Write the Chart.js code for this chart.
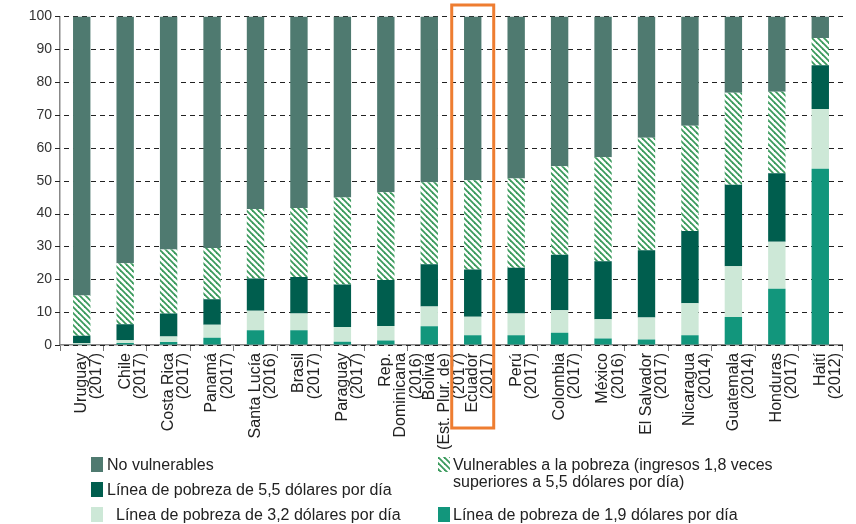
<!DOCTYPE html>
<html>
<head>
<meta charset="utf-8">
<script src="https://cdn.jsdelivr.net/npm/chart.js@4/dist/chart.umd.min.js"></script>
<style>
  body { margin: 0; background: #fff; font-family: "Liberation Sans", Arial, sans-serif; }
  #wrap { position: relative; width: 856px; height: 524px; }
  #legend { position: absolute; left: 0; top: 0; width: 856px; height: 524px; pointer-events: none; font-size: 16px; color: #222; }
  .item { position: absolute; line-height: 17px; }
  .sw { position: absolute; width: 12px; height: 15px; }
</style>
</head>
<body>
<div id="wrap">
  <canvas id="chart" width="856" height="524"></canvas>
  <div id="legend">
    <div class="sw" style="left:91px;top:457px;background:#4f7a70"></div>
    <div class="item" style="left:107px;top:456px">No vulnerables</div>
    <div class="sw" style="left:91px;top:482px;background:#005e4e"></div>
    <div class="item" style="left:107px;top:481px">Línea de pobreza de 5,5 dólares por día</div>
    <div class="sw" style="left:91px;top:507px;background:#cde8d7"></div>
    <div class="item" style="left:116px;top:506px">Línea de pobreza de 3,2 dólares por día</div>
    <canvas id="hatchIcon" class="sw" width="12" height="15" style="left:438px;top:457px"></canvas>
    <div class="item" style="left:453px;top:456px">Vulnerables a la pobreza (ingresos 1,8 veces<br>superiores a 5,5 dólares por día)</div>
    <div class="sw" style="left:438px;top:507px;background:#12967c"></div>
    <div class="item" style="left:453px;top:506px">Línea de pobreza de 1,9 dólares por día</div>
  </div>
</div>
<script>
// Países (año de la encuesta)
const paises = [
  ['Uruguay', '(2017)'], ['Chile', '(2017)'], ['Costa Rica', '(2017)'], ['Panamá', '(2017)'],
  ['Santa Lucía', '(2016)'], ['Brasil', '(2017)'], ['Paraguay', '(2017)'],
  ['Rep.', 'Dominicana', '(2016)'], ['Bolivia', '(Est. Plur. de)', '(2017)'], ['Ecuador', '(2017)'],
  ['Perú', '(2017)'], ['Colombia', '(2017)'], ['México', '(2016)'], ['El Salvador', '(2017)'],
  ['Nicaragua', '(2014)'], ['Guatemala', '(2014)'], ['Honduras', '(2017)'], ['Haití', '(2012)']
];

// Porcentajes de cada tramo (de abajo hacia arriba)
const linea19 = [0.2, 0.6, 0.9, 2.2, 4.5, 4.5, 1.0, 1.4, 5.7, 3.0, 3.0, 3.7, 2.0, 1.7, 3.0, 8.5, 17.1, 53.6];
const linea32 = [0.3, 0.9, 1.7, 4.0, 5.9, 5.1, 4.5, 4.4, 6.0, 5.6, 6.6, 6.9, 5.8, 6.7, 9.7, 15.5, 14.3, 18.2];
const linea55 = [2.3, 4.8, 7.0, 7.7, 9.8, 11.1, 12.9, 14.0, 12.9, 14.4, 13.9, 16.9, 17.7, 20.4, 22.0, 24.8, 20.9, 13.3];
const vulnerables = [12.3, 18.6, 19.5, 15.6, 21.2, 21.0, 26.5, 26.7, 24.9, 27.1, 27.2, 26.9, 31.6, 34.3, 32.0, 28.0, 24.8, 8.3];
const noVulnerables = [84.9, 75.1, 70.9, 70.5, 58.6, 58.3, 55.1, 53.5, 50.5, 49.9, 49.3, 45.6, 42.9, 36.9, 33.3, 23.2, 22.9, 6.6];

const destacado = 9; // Ecuador

// Patrón rayado para "vulnerables"
function rayado() {
  const c = document.createElement('canvas');
  c.width = 6; c.height = 6;
  const g = c.getContext('2d');
  g.fillStyle = '#fff';
  g.fillRect(0, 0, 6, 6);
  g.strokeStyle = '#3a9a5c';
  g.lineWidth = 1.8;
  for (let o = -6; o <= 6; o += 6) {
    g.beginPath();
    g.moveTo(o - 1, -1);
    g.lineTo(o + 7, 7);
    g.stroke();
  }
  return c;
}
const patron = document.getElementById('chart').getContext('2d').createPattern(rayado(), 'repeat');

// icono de la leyenda
(function () {
  const ic = document.getElementById('hatchIcon').getContext('2d');
  ic.fillStyle = ic.createPattern(rayado(), 'repeat');
  ic.fillRect(0, 0, 12, 15);
})();

// líneas de cuadrícula discontinuas (trazos a mano)
const cuadricula = {
  id: 'cuadricula',
  beforeDatasetsDraw(chart) {
    const y = chart.scales.y, a = chart.chartArea, ctx = chart.ctx;
    ctx.save();
    ctx.strokeStyle = '#222';
    ctx.lineWidth = 1;
    y.ticks.forEach(t => {
      const py = Math.round(y.getPixelForValue(t.value)) + 0.5;
      ctx.beginPath();
      for (let x = a.left - 5; x < a.right + 2; x += 9) {
        ctx.moveTo(x, py);
        ctx.lineTo(Math.min(x + 5, a.right + 2), py);
      }
      ctx.stroke();
    });
    ctx.restore();
  }
};

const marco = {
  id: 'marco',
  afterDraw(chart) {
    const x = chart.scales.x;
    const cx = x.getPixelForValue(destacado);
    const ctx = chart.ctx;
    ctx.save();
    ctx.strokeStyle = '#ee7d31';
    ctx.lineWidth = 3;
    ctx.strokeRect(cx - 21, 5, 42, 423);
    ctx.restore();
  }
};

const bar = { barPercentage: 0.8, categoryPercentage: 0.5 };
const fuente = '"Liberation Sans", Arial, sans-serif';

new Chart(document.getElementById('chart'), {
  type: 'bar',
  data: {
    labels: paises,
    datasets: [
      { label: 'Línea de pobreza de 1,9 dólares por día', data: linea19, backgroundColor: '#12967c', ...bar },
      { label: 'Línea de pobreza de 3,2 dólares por día', data: linea32, backgroundColor: '#cde8d7', ...bar },
      { label: 'Línea de pobreza de 5,5 dólares por día', data: linea55, backgroundColor: '#005e4e', ...bar },
      { label: 'Vulnerables a la pobreza', data: vulnerables, backgroundColor: patron, ...bar },
      { label: 'No vulnerables', data: noVulnerables, backgroundColor: '#4f7a70', ...bar }
    ]
  },
  options: {
    responsive: false,
    animation: false,
    layout: { padding: { top: 15, right: 14, left: 0, bottom: 0 } },
    plugins: { legend: { display: false }, tooltip: { enabled: false } },
    scales: {
      x: {
        stacked: true,
        grid: { offset: true, drawOnChartArea: false, tickLength: 6, color: '#777' },
        border: { color: '#888', width: 1.5 },
        ticks: {
          autoSkip: false, maxRotation: 90, minRotation: 90, padding: 2,
          color: '#222', font: { family: fuente, size: 16, lineHeight: 0.95 }
        },
        afterFit(s) { s.height = 179; }
      },
      y: {
        stacked: true,
        min: 0, max: 100,
        grid: { drawOnChartArea: false, drawTicks: false },
        border: { color: '#888', width: 1.5 },
        ticks: {
          stepSize: 10, padding: 8,
          color: '#333', font: { family: fuente, size: 14 }
        },
        afterFit(s) { s.width = 60; }
      }
    }
  },
  plugins: [cuadricula, marco]
});
</script>
</body>
</html>
